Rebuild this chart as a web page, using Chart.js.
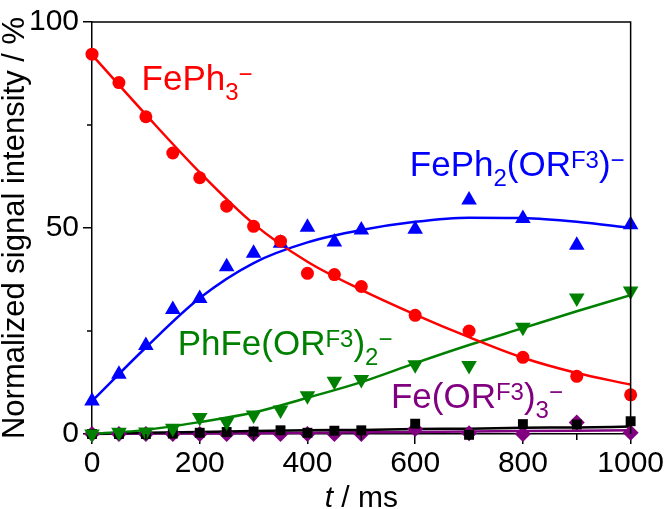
<!DOCTYPE html>
<html>
<head>
<meta charset="utf-8">
<script src="https://cdn.jsdelivr.net/npm/chart.js@4.4.0/dist/chart.umd.min.js"></script>
<style>
html, body { margin: 0; padding: 0; background: #fff; }
#wrap { width: 666px; height: 509px; }
</style>
</head>
<body>
<div id="wrap"><canvas id="kinChart" width="666" height="509"></canvas></div>
<script>
// measured points (t in ms, signal in %)
const times = [0, 50, 100, 150, 200, 250, 300, 350, 400, 450, 500, 600, 700, 800, 900, 1000];
const fePh3 = [92.2, 85.3, 77.0, 68.2, 62.2, 55.3, 50.4, 46.8, 39.0, 38.7, 35.8, 28.8, 25.0, 18.6, 14.0, 9.5];
const fePh2 = [8.0, 14.5, 21.5, 30.2, 32.9, 40.6, 43.9, 46.3, 50.2, 46.6, 49.5, 49.7, 56.8, 52.3, 45.8, 50.8];
const phFe = [0, 0.4, 0.5, 1.4, 4.0, 2.9, 4.6, 5.8, 9.3, 12.8, 13.2, 16.8, 16.6, 25.9, 33.0, 34.7];
const other = [0, 0, 0, 0.1, 0.3, 0.5, 0.6, 0.9, 0.3, 0.8, 0.9, 2.5, -0.2, 2.4, 2.3, 3.1];
const feOR3 = [0, 0, 0, 0, 0, 0, 0, 0, 0, 0, 0, 1.2, 0.2, 0, 2.8, 0.3];

const fitTimes = [0, 100, 200, 300, 400, 500, 600, 700, 800, 900, 1000];
const fePh3Fit = [92, 77.5, 63.5, 51, 41.8, 35, 29, 23.5, 18.5, 14.8, 12];
const fePh2Fit = [8, 21, 33, 41.5, 46.5, 49.5, 51.5, 52.5, 52.4, 51.5, 50];
const phFeFit = [0, 1, 2.9, 5.2, 8.8, 12.6, 17.2, 21.6, 25.7, 29.8, 33.7];
const otherFit = [0, 0.3, 0.5, 0.7, 0.9, 1.0, 1.2, 1.3, 1.5, 1.6, 1.8];
const feOR3Fit = [0, 0.1, 0.1, 0.2, 0.3, 0.4, 0.5, 0.6, 0.7, 0.8, 0.9];

const xTicks = [0, 200, 400, 600, 800, 1000];
const xMinor = [100, 300, 500, 700, 900];
const yTicks = [0, 50, 100];
const yMinor = [25, 75];

// species labels: [text, style] pieces, anchored at (t, %)
const labels = [
    { color: '#ff0000', x: 92, y: 83.6, parts: [['FePh', ''], ['3', 'sub'], ['\u2212', 'sup']] },
    { color: '#0000ff', x: 590, y: 62.7, parts: [['FePh', ''], ['2', 'sub'], ['(OR', ''], ['F3', 'sup'], [')', ''], ['\u2212', 'sup']] },
    { color: '#008000', x: 159, y: 19.2, parts: [['PhFe(OR', ''], ['F3', 'sup'], [')', ''], ['2', 'sub'], ['\u2212', 'sup']] },
    { color: '#800080', x: 555, y: 6.2, parts: [['Fe(OR', ''], ['F3', 'sup'], [')', ''], ['3', 'sub'], ['\u2212', 'sup']] }
];

const FONT = 'Arial, "Liberation Sans", sans-serif';

const pts = (xs, ys) => xs.map((x, i) => ({ x: x, y: ys[i] }));

const scatterSet = (ys, color, style, radius, rot) => ({
    type: 'scatter',
    data: pts(times, ys),
    pointStyle: style,
    pointRadius: radius,
    pointRotation: rot || 0,
    backgroundColor: color,
    borderColor: color,
    borderWidth: 0,
    showLine: false,
    clip: false,
    order: 1
});

const fitSet = (ys, color) => ({
    type: 'line',
    data: pts(fitTimes, ys),
    borderColor: color,
    borderWidth: 2.5,
    pointRadius: 0,
    fill: false,
    cubicInterpolationMode: 'monotone',
    clip: false,
    order: 2
});

const decor = {
    id: 'decor',
    afterDraw(chart) {
        const { ctx, chartArea: a, scales } = chart;
        const xs = scales.x, ys = scales.y;
        ctx.save();
        ctx.strokeStyle = '#000';
        ctx.lineWidth = 1.5;
        ctx.beginPath();
        ctx.moveTo(a.left, a.top); ctx.lineTo(a.right, a.top); ctx.lineTo(a.right, a.bottom);
        xMinor.forEach(v => {
            const px = xs.getPixelForValue(v);
            ctx.moveTo(px, a.bottom); ctx.lineTo(px, a.bottom + 6);
        });
        yMinor.forEach(v => {
            const py = ys.getPixelForValue(v);
            ctx.moveTo(a.left, py); ctx.lineTo(a.left - 5, py);
        });
        ctx.stroke();

        // x axis title with italic t
        ctx.fillStyle = '#000';
        ctx.textBaseline = 'alphabetic';
        ctx.font = 'italic 30px ' + FONT;
        const tW = ctx.measureText('t').width;
        ctx.font = '30px ' + FONT;
        const rW = ctx.measureText(' / ms').width;
        let x0 = (a.left + a.right) / 2 - (tW + rW) / 2;
        ctx.font = 'italic 30px ' + FONT;
        ctx.fillText('t', x0, 507);
        ctx.font = '30px ' + FONT;
        ctx.fillText(' / ms', x0 + tW, 507);

        // species labels
        labels.forEach(l => {
            let px = xs.getPixelForValue(l.x);
            const base = ys.getPixelForValue(l.y);
            ctx.fillStyle = l.color;
            l.parts.forEach(([txt, kind]) => {
                let dy = 0;
                if (kind === 'sub') { ctx.font = '24px ' + FONT; dy = 10; }
                else if (kind === 'sup') { ctx.font = '24px ' + FONT; dy = -8; }
                else { ctx.font = '35px ' + FONT; }
                ctx.fillText(txt, px, base + dy);
                px += ctx.measureText(txt).width;
            });
        });
        ctx.restore();
    }
};

new Chart(document.getElementById('kinChart').getContext('2d'), {
    data: {
        datasets: [
            fitSet(fePh3Fit, '#ff0000'),
            fitSet(fePh2Fit, '#0000ff'),
            fitSet(phFeFit, '#008000'),
            fitSet(otherFit, '#000000'),
            fitSet(feOR3Fit, '#800080'),
            scatterSet(fePh3, '#ff0000', 'circle', 6.5),
            scatterSet(fePh2, '#0000ff', 'triangle', 9),
            scatterSet(phFe, '#008000', 'triangle', 9, 180),
            scatterSet(other, '#000000', 'rect', 7),
            scatterSet(feOR3, '#800080', 'rectRot', 8)
        ]
    },
    options: {
        responsive: false,
        animation: false,
        layout: { padding: { top: 13, right: 33, left: 0, bottom: 0 } },
        plugins: { legend: { display: false }, tooltip: { enabled: false } },
        scales: {
            x: {
                type: 'linear',
                min: 0,
                max: 1000,
                afterFit: s => { s.height = 75; },
                afterBuildTicks: s => { s.ticks = xTicks.map(v => ({ value: v })); },
                border: { display: true, color: '#000', width: 1.5 },
                grid: { drawOnChartArea: false, drawTicks: true, tickLength: 10, color: '#000', lineWidth: 1.5 },
                ticks: { color: '#000', font: { family: FONT, size: 30 }, padding: 2, maxRotation: 0, callback: v => String(v) }
            },
            y: {
                type: 'linear',
                min: 0,
                max: 100,
                afterFit: s => { s.width = 92; },
                afterBuildTicks: s => { s.ticks = yTicks.map(v => ({ value: v })); },
                border: { display: true, color: '#000', width: 1.5 },
                grid: { drawOnChartArea: false, drawTicks: true, tickLength: 9, color: '#000', lineWidth: 1.5 },
                ticks: { color: '#000', font: { family: FONT, size: 30 }, padding: 4, callback: v => String(v) },
                title: {
                    display: true,
                    text: 'Normalized signal intensity / %',
                    color: '#000',
                    font: { family: FONT, size: 31, lineHeight: 1 },
                    padding: { top: 0, bottom: 0 }
                }
            }
        }
    },
    plugins: [decor]
});
</script>
</body>
</html>
